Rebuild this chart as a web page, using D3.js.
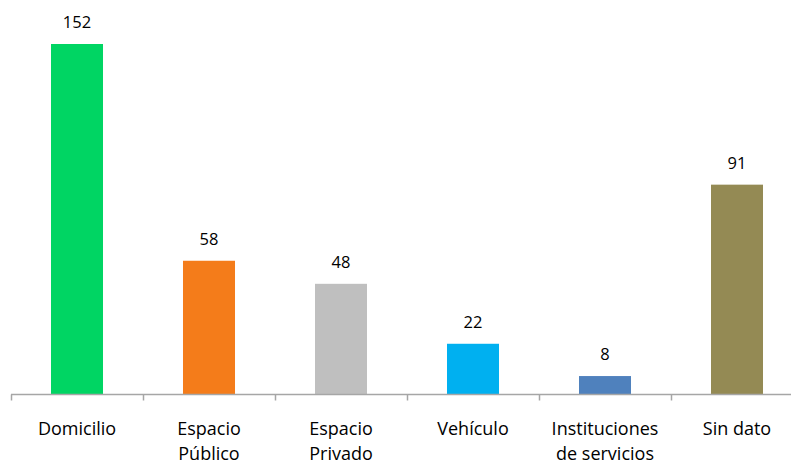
<!DOCTYPE html>
<html>
<head>
<meta charset="utf-8">
<script src="https://cdn.jsdelivr.net/npm/d3@7"></script>
<style>
  body { margin: 0; background: #fff; }
  .g-values { font-family: "Open Sans", sans-serif; font-size: 16.5px; fill: #000; }
  .g-labels { font-family: "Open Sans", sans-serif; font-size: 18px; fill: #000; }
</style>
</head>
<body>
<div id="wrapper"></div>
<script>
// data
const categories = ["Domicilio", "Espacio Público", "Espacio Privado", "Vehículo", "Instituciones de servicios", "Sin dato"];
const labelLines = [["Domicilio"], ["Espacio", "Público"], ["Espacio", "Privado"], ["Vehículo"], ["Instituciones", "de servicios"], ["Sin dato"]];
const values = [152, 58, 48, 22, 8, 91];
const colors = ["#00d563", "#f47c1a", "#bfbfbf", "#00b0f0", "#4f81bd", "#948a54"];

const width = 791, height = 461;
const baseY = 394.5;

const svg = d3.select("#wrapper")
  .append("svg")
  .attr("width", width)
  .attr("height", height);

const x = d3.scaleBand()
  .domain(categories)
  .range([11, 11 + 132 * categories.length])
  .paddingInner(0.606)
  .paddingOuter(0.303);

const y = d3.scaleLinear()
  .domain([0, 152])
  .range([baseY, 44]);

// bars
svg.selectAll(".bar")
  .data(values)
  .enter()
  .append("rect")
  .attr("class", "bar")
  .attr("x", (d, i) => x(categories[i]))
  .attr("y", d => y(d))
  .attr("width", x.bandwidth())
  .attr("height", d => baseY - y(d))
  .attr("fill", (d, i) => colors[i]);

// value labels
svg.selectAll(".g-values")
  .data(values)
  .enter()
  .append("text")
  .attr("class", "g-values")
  .attr("x", (d, i) => x(categories[i]) + x.bandwidth() / 2)
  .attr("y", d => y(d) - 16)
  .attr("text-anchor", "middle")
  .text(d => d);

// axis with ticks between categories
const xEdge = d3.scaleLinear()
  .domain([0, categories.length])
  .range([11, 11 + 132 * categories.length]);

const axis = svg.append("g")
  .attr("transform", "translate(0," + baseY + ")")
  .call(d3.axisBottom(xEdge)
    .tickValues(d3.range(0, categories.length + 1))
    .tickSize(6)
    .tickSizeOuter(0)
    .tickFormat(""));
axis.select(".domain").attr("stroke", "#a6a6a6").attr("stroke-width", 1.5)
  .attr("d", "M11,0H" + width);
axis.selectAll(".tick line").attr("stroke", "#a6a6a6").attr("stroke-width", 1.5);

// category labels
const lab = svg.selectAll(".g-labels")
  .data(labelLines)
  .enter()
  .append("text")
  .attr("class", "g-labels")
  .attr("text-anchor", "middle")
  .attr("x", (d, i) => x(categories[i]) + x.bandwidth() / 2)
  .attr("y", 435);

lab.selectAll("tspan")
  .data(d => d)
  .enter()
  .append("tspan")
  .attr("x", function () { return this.parentNode.getAttribute("x"); })
  .attr("dy", (d, i) => i === 0 ? 0 : 25)
  .text(d => d);
</script>
</body>
</html>
